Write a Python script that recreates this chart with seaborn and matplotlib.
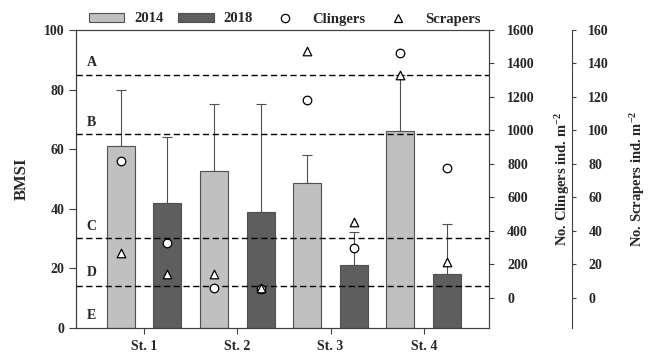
import numpy as np
import pandas as pd
import seaborn as sns
import matplotlib.pyplot as plt
from matplotlib.patches import Patch
from matplotlib.lines import Line2D
import matplotlib.transforms as mtransforms

# values
stations = ["St. 1", "St. 2", "St. 3", "St. 4"]
years = ["2014", "2018"]
bmsi_2014 = [61, 52.5, 48.5, 66]
bmsi_2018 = [42, 39, 21, 18]
bmsi_top_2014 = [80, 75, 58, 85]
bmsi_top_2018 = [64, 75, 32, 35]
clingers_2014 = [817, 56, 1182, 1461]
clingers_2018 = [329, 52, 295, 773]
scrapers_2014 = [26.5, 14, 147.5, 133]
scrapers_2018 = [14, 6, 45, 21]
class_limits = [85, 65, 30, 14]
class_names = ["A", "B", "C", "D", "E"]
class_label_y = [89, 69, 34, 18.5, 4]

sns.set_style("ticks")
plt.rcParams["font.family"] = ["Liberation Serif", "DejaVu Serif"]
plt.rcParams["font.weight"] = "bold"
plt.rcParams["font.size"] = 10
plt.rcParams["mathtext.fontset"] = "custom"
plt.rcParams["mathtext.rm"] = "Liberation Serif:bold"
plt.rcParams["mathtext.default"] = "rm"

df = pd.DataFrame({
    "station": stations * 2,
    "year": [years[0]] * 4 + [years[1]] * 4,
    "bmsi": bmsi_2014 + bmsi_2018,
})

fig = plt.figure(figsize=(6.59, 3.52), dpi=100)
ax = fig.add_axes([76 / 659, 1 - 327.7 / 352, 413 / 659, 297.7 / 352])

cols = {"2014": "#c0c0c0", "2018": "#5e5e5e"}
sns.barplot(data=df, x="station", y="bmsi", hue="year", palette=cols,
            width=1.0, gap=0.4, edgecolor="#505050", linewidth=0.8,
            errorbar=None, legend=False, ax=ax, zorder=2)

# bar centres from the drawn bars
centres = []
for cont in ax.containers:
    centres.append([b.get_x() + b.get_width() / 2 for b in cont])

for xs, mean, top in [(centres[0], bmsi_2014, bmsi_top_2014),
                      (centres[1], bmsi_2018, bmsi_top_2018)]:
    mean = np.array(mean)
    up = np.array(top) - mean
    ax.errorbar(xs, mean, yerr=[np.zeros_like(up), up], fmt="none",
                ecolor="#505050", elinewidth=0.8, capsize=3.5, capthick=0.8, zorder=1)

for lim in class_limits:
    ax.axhline(lim, color="black", ls=(0, (4.5, 2.5)), lw=1.0, zorder=3)

trans = mtransforms.blended_transform_factory(ax.transAxes, ax.transData)
for name, yy in zip(class_names, class_label_y):
    ax.text(0.038, yy, name, transform=trans, ha="center", va="center",
            fontsize=10, fontweight="bold")

ax.set_ylim(0, 100)
ax.set_xlim(-0.73, 3.7)
ax.set_yticks(range(0, 101, 20))
ax.set_xlabel("")
ax.set_ylabel("BMSI", fontsize=12, fontweight="bold")
ax.yaxis.set_label_coords(-0.111, 0.5)
ax.tick_params(axis="y", length=5, width=0.8, color="#404040", pad=3.5)
ax.tick_params(axis="x", length=4.5, width=0.8, color="#404040", pad=4)

ax2 = ax.twinx()
ax2.set_ylim(-180, 1600)
ax2.set_yticks(range(0, 1601, 200))
ax3 = ax.twinx()
ax3.set_ylim(-18, 160)
ax3.set_yticks(range(0, 161, 20))
ax3.spines["right"].set_position(("axes", 1.2))
for s in ["top", "left", "bottom"]:
    ax3.spines[s].set_visible(False)

sns.scatterplot(x=centres[0], y=clingers_2014, marker="o", s=38, color="white",
                edgecolor="black", linewidth=0.9, ax=ax2, zorder=5)
sns.scatterplot(x=centres[1], y=clingers_2018, marker="o", s=38, color="white",
                edgecolor="black", linewidth=0.9, ax=ax2, zorder=5)
sns.scatterplot(x=centres[0], y=scrapers_2014, marker="^", s=38, color="white",
                edgecolor="black", linewidth=0.9, ax=ax3, zorder=5)
sns.scatterplot(x=centres[1], y=scrapers_2018, marker="^", s=38, color="white",
                edgecolor="black", linewidth=0.9, ax=ax3, zorder=5)

ax2.set_ylabel("No. Clingers ind. m$^{-2}$", fontsize=10.5, fontweight="bold")
ax2.yaxis.set_label_coords(1.155, 0.5)
ax3.set_ylabel("No. Scrapers ind. m$^{-2}$", fontsize=10.5, fontweight="bold")
ax3.yaxis.set_label_coords(1.336, 0.5)
ax2.tick_params(axis="y", length=3.5, width=0.8, color="#404040", pad=9.5)
ax3.tick_params(axis="y", direction="out", length=3, width=0.8, color="#404040", pad=9)

for a in (ax, ax2, ax3):
    for s in a.spines.values():
        s.set_color("#404040")
        s.set_linewidth(0.8)
    for lab in a.get_yticklabels() + a.get_xticklabels():
        lab.set_fontweight("bold")

handles = [
    Patch(facecolor=cols["2014"], edgecolor="#505050", linewidth=0.8),
    Patch(facecolor=cols["2018"], edgecolor="#505050", linewidth=0.8),
    Line2D([], [], ls="none", marker="o", markersize=6, mfc="white", mec="black", mew=0.9),
    Line2D([], [], ls="none", marker="^", markersize=6, mfc="white", mec="black", mew=0.9),
]
fig.legend(handles, ["2014", "2018", "Clingers", "Scrapers"], ncol=4,
           loc="center", bbox_to_anchor=(0.432, 1 - 19 / 352), frameon=False,
           handlelength=2.45, handleheight=0.55, handletextpad=0.65,
           columnspacing=1.0, prop={"weight": "bold", "size": 10.5})

fig.savefig("out.png", dpi=100)
